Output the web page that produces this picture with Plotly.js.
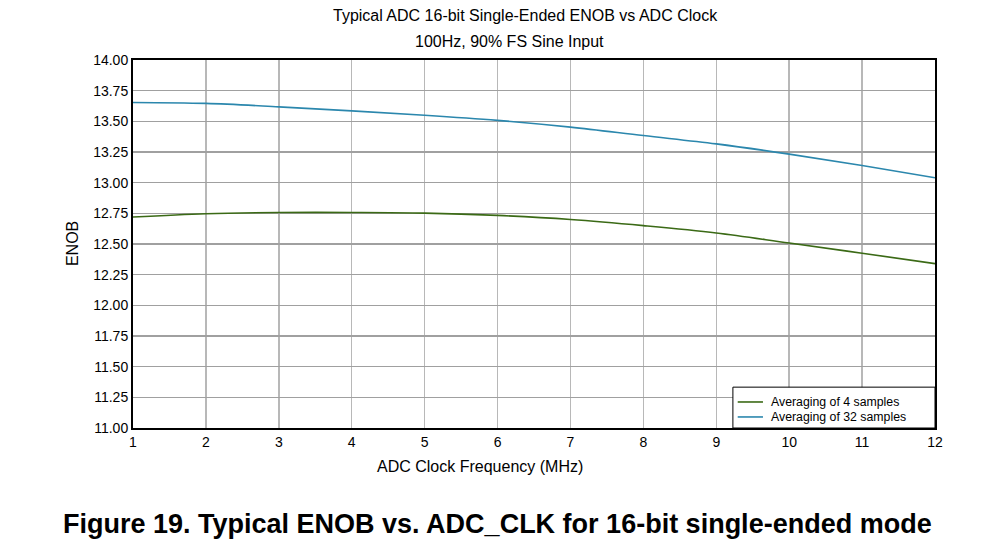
<!DOCTYPE html>
<html>
<head>
<meta charset="utf-8">
<script src="https://cdn.plot.ly/plotly-3.0.1.min.js"></script>
<style>html,body{margin:0;padding:0;background:#fff;}#chart{width:999px;height:544px;}</style>
</head>
<body>
<div id="chart"></div>
<script>
const clockMHz = [1, 2, 3, 4, 5, 6, 7, 8, 9, 10, 11, 12];
const enobAvg4 = [12.72, 12.747, 12.757, 12.757, 12.752, 12.733, 12.70, 12.65, 12.59, 12.508, 12.425, 12.34];
const enobAvg32 = [13.654, 13.646, 13.618, 13.585, 13.55, 13.508, 13.453, 13.384, 13.316, 13.233, 13.14, 13.04];
const yTicks = [11.00, 11.25, 11.50, 11.75, 12.00, 12.25, 12.50, 12.75, 13.00, 13.25, 13.50, 13.75, 14.00];
const seriesNames = ['Averaging of 4 samples', 'Averaging of 32 samples'];
const seriesColors = ['#3b6a16', '#2b87ad'];

const FONT = 'Liberation Sans, Arial, sans-serif';

const traces = [
  {x: clockMHz, y: enobAvg4, name: seriesNames[0], mode: 'lines', showlegend: false,
   line: {color: seriesColors[0], width: 1.6, shape: 'spline'}},
  {x: clockMHz, y: enobAvg32, name: seriesNames[1], mode: 'lines', showlegend: false,
   line: {color: seriesColors[1], width: 1.6, shape: 'spline'}}
];

// compact legend drawn in paper coordinates
const legX0 = 0.748, legX1 = 1, legY0 = 0, legY1 = 0.111;
const legRows = [0.0707, 0.030];
const shapes = [
  {type: 'rect', xref: 'paper', yref: 'paper', x0: legX0, x1: legX1, y0: legY0, y1: legY1,
   line: {color: '#000', width: 1}, fillcolor: '#fff', layer: 'above'}
];
const legendAnn = [];
seriesNames.forEach((n, i) => {
  shapes.push({type: 'line', xref: 'paper', yref: 'paper', x0: 0.754, x1: 0.7855,
    y0: legRows[i], y1: legRows[i], line: {color: seriesColors[i], width: 1.6}, layer: 'above'});
  legendAnn.push({text: n, xref: 'paper', yref: 'paper', x: 0.7925, y: legRows[i],
    xanchor: 'left', yanchor: 'middle', showarrow: false, font: {size: 12.3}});
});

const layout = {
  width: 999, height: 544,
  margin: {l: 133, r: 64, t: 60, b: 116},
  paper_bgcolor: '#fff', plot_bgcolor: '#fff',
  font: {family: FONT, color: '#000', size: 14},
  showlegend: false,
  xaxis: {range: [1, 12], tickvals: clockMHz, ticktext: clockMHz.map(String),
    showgrid: true, gridcolor: '#b8b8b8', gridwidth: 1.5,
    showline: true, linecolor: '#000', linewidth: 2, mirror: true,
    ticks: '', zeroline: false, tickfont: {size: 14}},
  yaxis: {range: [11, 14], tickvals: yTicks, ticktext: yTicks.map(v => v.toFixed(2)),
    showgrid: true, gridcolor: '#a0a0a0', gridwidth: 1.2,
    showline: true, linecolor: '#000', linewidth: 2, mirror: true,
    ticks: '', zeroline: false, tickfont: {size: 14}},
  shapes: shapes,
  annotations: [
    {text: 'Typical ADC 16-bit Single-Ended ENOB vs ADC Clock', xref: 'paper', yref: 'paper',
     x: 0.49, y: 1.12, xanchor: 'center', yanchor: 'middle', showarrow: false, font: {size: 16}},
    {text: '100Hz, 90% FS Sine Input', xref: 'paper', yref: 'paper',
     x: 0.47, y: 1.05, xanchor: 'center', yanchor: 'middle', showarrow: false, font: {size: 16}},
    {text: 'ADC Clock Frequency (MHz)', xref: 'paper', yref: 'paper',
     x: 0.433, y: -0.105, xanchor: 'center', yanchor: 'middle', showarrow: false, font: {size: 16}},
    {text: 'ENOB', xref: 'paper', yref: 'paper', textangle: -90,
     x: -0.076, y: 0.5, xanchor: 'center', yanchor: 'middle', showarrow: false, font: {size: 16}},
    {text: '<b>Figure 19. Typical ENOB vs. ADC_CLK for 16-bit single-ended mode</b>', xref: 'paper', yref: 'paper',
     x: 0.4545, y: -0.261, xanchor: 'center', yanchor: 'middle', showarrow: false, font: {size: 27}}
  ].concat(legendAnn)
};

Plotly.newPlot('chart', traces, layout, {displayModeBar: false, staticPlot: true});
</script>
</body>
</html>
